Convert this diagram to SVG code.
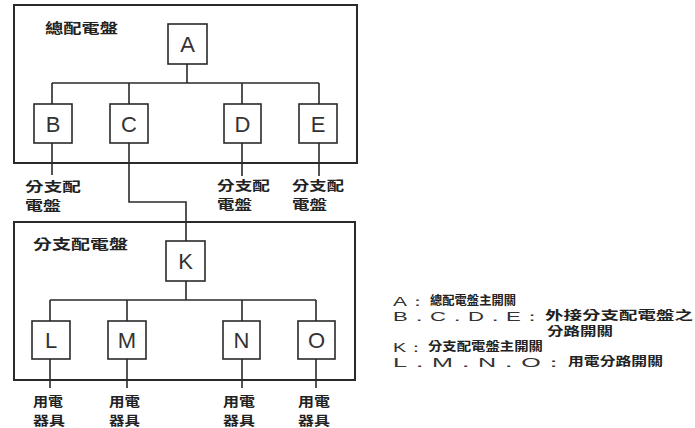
<svg xmlns="http://www.w3.org/2000/svg" width="695" height="428" viewBox="0 0 695 428">
<style>
.panel{fill:none;stroke:#2a2a2a;stroke-width:2}
.sw{fill:#fff;stroke:#2a2a2a;stroke-width:1.6}
.wire{fill:none;stroke:#2a2a2a;stroke-width:1.6}
.ltr{font-family:"Liberation Sans",Arial,sans-serif;font-size:22px;fill:#333;text-anchor:middle}
.cjk{font-family:"Noto Sans CJK TC","Noto Sans CJK SC",sans-serif;font-size:14px;font-weight:bold;fill:#222}
.cjks{font-family:"Noto Sans CJK TC","Noto Sans CJK SC",sans-serif;font-size:13px;font-weight:bold;fill:#222}
.leg{font-family:"Liberation Sans",Arial,sans-serif;font-size:13px;fill:#333}
.legc{font-family:"Noto Sans CJK TC","Noto Sans CJK SC",sans-serif;font-size:12px;font-weight:bold;fill:#222}
</style>
<rect width="695" height="428" fill="#fff"/>
<g id="main-panel">
<rect class="panel" x="14" y="5" width="343" height="158"/>
<text class="cjk" x="45" y="33" textLength="73" lengthAdjust="spacingAndGlyphs">總配電盤</text>
</g>
<g id="branch-panel">
<rect class="panel" x="14" y="222" width="341" height="158"/>
<text class="cjk" x="33" y="249" textLength="95" lengthAdjust="spacingAndGlyphs">分支配電盤</text>
</g>
<g id="connectors">
<path class="wire" d="M187,64V83M52,83H319M52,83V104M129,83V104M242,83V104M319,83V104"/>
<path class="wire" d="M52,143V175M242,143V176M319,143V176"/>
<path class="wire" d="M129,143V202H186V241"/>
<path class="wire" d="M186,281V300M50,300H316M50,300V321M127,300V321M242,300V321M316,300V321"/>
<path class="wire" d="M50,359V388M127,359V388M242,359V388M316,359V388"/>
</g>
<g id="A"><rect class="sw" x="168" y="24" width="39" height="40"/><text class="ltr" x="187.5" y="52">A</text></g>
<g id="B"><rect class="sw" x="34" y="104" width="38" height="39"/><text class="ltr" x="53" y="131.5">B</text></g>
<g id="C"><rect class="sw" x="110" y="104" width="38" height="39"/><text class="ltr" x="129" y="131.5">C</text></g>
<g id="D"><rect class="sw" x="224" y="104" width="37" height="39"/><text class="ltr" x="242.5" y="131.5">D</text></g>
<g id="E"><rect class="sw" x="299" y="104" width="38" height="39"/><text class="ltr" x="318" y="131.5">E</text></g>
<g id="K"><rect class="sw" x="166" y="241" width="39" height="40"/><text class="ltr" x="185.5" y="268.5">K</text></g>
<g id="L"><rect class="sw" x="32" y="321" width="38" height="38"/><text class="ltr" x="51" y="347.5">L</text></g>
<g id="M"><rect class="sw" x="108" y="321" width="38" height="38"/><text class="ltr" x="127" y="347.5">M</text></g>
<g id="N"><rect class="sw" x="223" y="321" width="37" height="38"/><text class="ltr" x="241.5" y="347.5">N</text></g>
<g id="O"><rect class="sw" x="298" y="321" width="37" height="38"/><text class="ltr" x="316.5" y="347.5">O</text></g>
<g id="outputs">
<text class="cjks" x="25" y="190.5" textLength="56" lengthAdjust="spacingAndGlyphs">分支配</text>
<text class="cjks" x="25" y="209.5" textLength="36" lengthAdjust="spacingAndGlyphs">電盤</text>
<text class="cjks" x="217" y="189.5" textLength="53" lengthAdjust="spacingAndGlyphs">分支配</text>
<text class="cjks" x="217" y="208.5" textLength="35" lengthAdjust="spacingAndGlyphs">電盤</text>
<text class="cjks" x="292" y="189.5" textLength="52" lengthAdjust="spacingAndGlyphs">分支配</text>
<text class="cjks" x="292" y="208.5" textLength="35" lengthAdjust="spacingAndGlyphs">電盤</text>
<text class="cjks" x="33" y="405.5" textLength="30" lengthAdjust="spacingAndGlyphs">用電</text>
<text class="cjks" x="33" y="424.5" textLength="32" lengthAdjust="spacingAndGlyphs">器具</text>
<text class="cjks" x="109" y="405.5" textLength="31" lengthAdjust="spacingAndGlyphs">用電</text>
<text class="cjks" x="109" y="424.5" textLength="31" lengthAdjust="spacingAndGlyphs">器具</text>
<text class="cjks" x="223" y="405.5" textLength="32" lengthAdjust="spacingAndGlyphs">用電</text>
<text class="cjks" x="223" y="424.5" textLength="32" lengthAdjust="spacingAndGlyphs">器具</text>
<text class="cjks" x="298" y="405.5" textLength="32" lengthAdjust="spacingAndGlyphs">用電</text>
<text class="cjks" x="298" y="424.5" textLength="32" lengthAdjust="spacingAndGlyphs">器具</text>
</g>
<g id="legend">
<text class="leg" x="393" y="306" textLength="35" lengthAdjust="spacingAndGlyphs">A：</text>
<text class="legc" x="430" y="305" textLength="86" lengthAdjust="spacingAndGlyphs">總配電盤主開關</text>
<text class="leg" x="393" y="321" textLength="150" lengthAdjust="spacingAndGlyphs">B．C．D．E：</text>
<text class="legc" x="545" y="320" textLength="148" lengthAdjust="spacingAndGlyphs">外接分支配電盤之</text>
<text class="legc" x="547" y="336" textLength="66" lengthAdjust="spacingAndGlyphs">分路開關</text>
<text class="leg" x="393" y="352" textLength="33" lengthAdjust="spacingAndGlyphs">K：</text>
<text class="legc" x="428" y="351" textLength="115" lengthAdjust="spacingAndGlyphs">分支配電盤主開關</text>
<text class="leg" x="393" y="367" textLength="173" lengthAdjust="spacingAndGlyphs">L．M．N．O：</text>
<text class="legc" x="568" y="366" textLength="95" lengthAdjust="spacingAndGlyphs">用電分路開關</text>
</g>
</svg>
